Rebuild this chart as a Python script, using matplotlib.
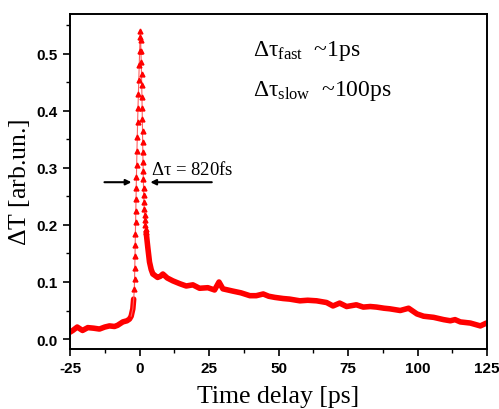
import numpy as np
import matplotlib
matplotlib.use('Agg')
import matplotlib.pyplot as plt

plt.rcParams['mathtext.fontset'] = 'custom'
plt.rcParams['mathtext.rm'] = 'Liberation Serif'
plt.rcParams['mathtext.it'] = 'Liberation Serif'

# pre-zero baseline (ps, signal)
t_pre = [-25, -24, -22.4, -20.5, -18.6, -16.5, -14.4, -12.5, -10.8, -9.0,
         -7.9, -6.0, -4.5, -3.6, -3.0, -2.4, -2.1]
v_pre = [0.012, 0.015, 0.021, 0.015, 0.020, 0.019, 0.0175, 0.021, 0.023, 0.022,
         0.024, 0.030, 0.032, 0.035, 0.040, 0.053, 0.070]

# pulse: rising edge, peak, fast decay
t_peak = [-1.85, -1.78, -1.70, -1.62, -1.55, -1.48, -1.40, -1.33, -1.25, -1.18,
          -1.10, -1.02, -0.92, -0.80, -0.68, -0.55, -0.40, -0.25, -0.10, 0.05,
          0.20, 0.30, 0.42, 0.52, 0.62, 0.72, 0.80, 0.88, 0.95, 1.02,
          1.08, 1.14, 1.20, 1.26, 1.32, 1.38, 1.45, 1.52, 1.60, 1.70,
          1.80, 1.92, 2.05, 2.20, 2.40]
v_peak = [0.088, 0.105, 0.125, 0.145, 0.165, 0.185, 0.205, 0.225, 0.245, 0.265,
          0.285, 0.305, 0.330, 0.355, 0.380, 0.405, 0.430, 0.455, 0.480, 0.505,
          0.530, 0.540, 0.525, 0.505, 0.485, 0.465, 0.445, 0.425, 0.405, 0.385,
          0.365, 0.345, 0.328, 0.310, 0.295, 0.280, 0.265, 0.252, 0.240, 0.228,
          0.218, 0.208, 0.200, 0.193, 0.187]

# slow tail
t_tail = [2.4, 3.0, 3.6, 4.2, 4.8, 5.4, 6.5, 7.5, 8.4, 10.0,
          12.0, 14.5, 16.8, 19.2, 21.6, 24.6, 27.0, 28.6, 30.0, 33.6,
          36.5, 39.7, 42.0, 44.5, 46.5, 48.7, 51.7, 54.0, 57.7, 60.5,
          63.7, 67.3, 69.6, 72.0, 74.5, 78.0, 80.5, 83.0, 85.3, 88.0,
          90.0, 93.8, 96.8, 99.8, 102.2, 105.8, 109.4, 111.8, 113.5, 115.4,
          119.0, 122.6, 124.8]
v_tail = [0.187, 0.160, 0.135, 0.122, 0.114, 0.112, 0.108, 0.110, 0.114, 0.107,
          0.102, 0.097, 0.093, 0.095, 0.089, 0.090, 0.086, 0.100, 0.088, 0.084,
          0.081, 0.076, 0.076, 0.079, 0.075, 0.073, 0.071, 0.070, 0.067, 0.068,
          0.067, 0.064, 0.058, 0.063, 0.057, 0.060, 0.056, 0.057, 0.056, 0.054,
          0.053, 0.050, 0.054, 0.044, 0.040, 0.038, 0.034, 0.032, 0.034, 0.030,
          0.028, 0.023, 0.028]

xticks = [-25, 0, 25, 50, 75, 100, 125]
yticks = [0.0, 0.1, 0.2, 0.3, 0.4, 0.5]

red = '#ff0000'

fig = plt.figure(figsize=(4.99, 4.10), dpi=100)
ax = fig.add_axes([70/499, 60/410, 417/499, 335/410])

# thick bands where the data points are dense
ax.plot(t_pre, v_pre, '-', color=red, lw=4, solid_capstyle='round')
ax.plot(t_tail, v_tail, '-', color=red, lw=4, solid_capstyle='round')
# thin line with triangles around the pulse
ax.plot(t_pre[-3:] + t_peak + t_tail[:1], v_pre[-3:] + v_peak + v_tail[:1],
        '-', color='#ff6060', lw=0.8)
ax.plot(t_peak, v_peak, '^', color=red, ms=3.5, mec=red)

ax.set_xlim(-25, 125)
ax.set_ylim(-0.0175, 0.570)
ax.set_xticks(xticks)
ax.set_yticks(yticks)
ax.set_xticklabels([str(x) for x in xticks])
ax.set_yticklabels(['%.1f' % y for y in yticks])
ax.set_xticks(np.arange(-25, 126, 12.5), minor=True)
ax.set_yticks(np.arange(0.0, 0.56, 0.05), minor=True)
ax.tick_params(which='major', direction='out', length=5, width=1.2,
               top=False, right=False, pad=4)
ax.tick_params(which='minor', direction='out', length=3, width=1.0,
               top=False, right=False)
for lab in ax.get_xticklabels() + ax.get_yticklabels():
    lab.set_fontfamily('Liberation Sans')
    lab.set_fontweight('bold')
    lab.set_fontsize(11)
for s in ax.spines.values():
    s.set_linewidth(1.4)

ax.set_xlabel('Time delay [ps]', family='Liberation Serif', fontsize=18.5, labelpad=7)
ax.set_ylabel('$\\Delta$T [arb.un.]', family='Liberation Serif', fontsize=18.5, labelpad=3)

# annotations
ax.text(4.3, 0.298, '$\\Delta\\tau$ = 820fs', family='Liberation Serif',
        fontsize=13.5, va='center', ha='left')
ax.annotate('', xy=(-2.9, 0.275), xytext=(-12.6, 0.275),
            arrowprops=dict(arrowstyle='-|>', color='black', lw=1.5,
                            mutation_scale=8, shrinkA=0, shrinkB=0))
ax.annotate('', xy=(3.9, 0.275), xytext=(26, 0.275),
            arrowprops=dict(arrowstyle='-|>', color='black', lw=1.5,
                            mutation_scale=8, shrinkA=0, shrinkB=0))
ax.text(41, 0.507, '$\\Delta\\tau_{\\mathrm{fast}}$  ~1ps',
        family='Liberation Serif', fontsize=17, va='center', ha='left')
ax.text(41, 0.436, '$\\Delta\\tau_{\\mathrm{slow}}$  ~100ps',
        family='Liberation Serif', fontsize=17, va='center', ha='left')

fig.savefig('out.png', dpi=100)
